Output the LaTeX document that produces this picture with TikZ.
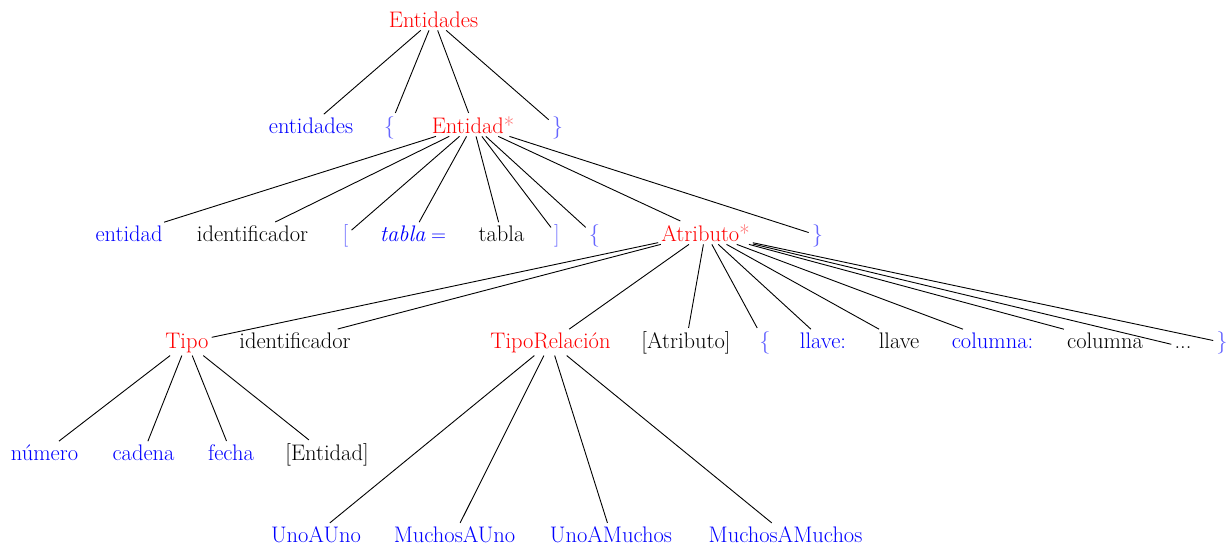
\documentclass[tikz,border=0pt]{standalone}
\usepackage{fontspec}
\begin{document}
\begin{tikzpicture}[x=1pt,y=-1pt,
  every node/.style={anchor=base,inner sep=0.3em,font=\fontsize{22.5}{26}\selectfont},
  nt/.style={text=red},
  kw/.style={text=blue},
  pn/.style={text=blue!60},
  tx/.style={text=black},
  edge/.style={draw=black,line width=0.9pt}]
\useasboundingbox (0,0) rectangle (1228,544);
% level 0
\node[nt] (root) at (433.5,27) {Entidades};
% level 1
\node[kw] (ents) at (311,133) {entidades};
\node[pn] (lb1) at (389.5,133) {\{};
\node[nt] (ent) at (473,133) {Entidad{\color{red!60}*}};
\node[pn] (rb1) at (557.5,133) {\}};
% level 2
\node[kw] (entkw) at (129,241) {entidad};
\node[tx] (id1) at (252.5,241) {identificador};
\node[pn] (ls) at (345.5,241) {[};
\node[kw] (tabkw) at (413,241) {$\mathit{tabla} =$};
\node[tx] (tab) at (501.5,241) {tabla};
\node[pn] (rs) at (557,241) {]};
\node[pn] (lb2) at (594.5,241) {\{};
\node[nt] (atr) at (705.5,241) {Atributo{\color{red!60}*}};
\node[pn] (rb2) at (817.5,241) {\}};
% level 3
\node[nt] (tipo) at (187,348) {Tipo};
\node[tx] (id2) at (295,348) {identificador};
\node[nt] (trel) at (550.5,348) {TipoRelación};
\node[tx] (optatr) at (686,348) {[Atributo]};
\node[pn] (lb3) at (765,348) {\{};
\node[kw] (llkw) at (823,348) {llave:};
\node[tx] (ll) at (899,348) {llave};
\node[kw] (colkw) at (992.5,348) {columna:};
\node[tx] (col) at (1105,348) {columna};
\node[tx] (dots) at (1183,348) {...};
\node[pn] (rb3) at (1222,348) {\}};
% level 4
\node[kw] (num) at (44.5,460) {número};
\node[kw] (cad) at (143.5,460) {cadena};
\node[kw] (fec) at (231,460) {fecha};
\node[tx] (optent) at (327,460) {[Entidad]};
% level 5
\node[kw] (u1) at (316,542) {UnoAUno};
\node[kw] (mu) at (454.5,542) {MuchosAUno};
\node[kw] (um) at (611,542) {UnoAMuchos};
\node[kw] (mm) at (785.5,542) {MuchosAMuchos};
% branches
\foreach \c in {ents,lb1,ent,rb1} \draw[edge] (root) -- (\c);
\foreach \c in {entkw,id1,ls,tabkw,tab,rs,lb2,atr,rb2} \draw[edge] (ent) -- (\c);
\foreach \c in {tipo,id2,trel,optatr,lb3,llkw,ll,colkw,col,dots,rb3} \draw[edge] (atr) -- (\c);
\foreach \c in {num,cad,fec,optent} \draw[edge] (tipo) -- (\c);
\foreach \c in {u1,mu,um,mm} \draw[edge] (trel) -- (\c);
\end{tikzpicture}
\end{document}
